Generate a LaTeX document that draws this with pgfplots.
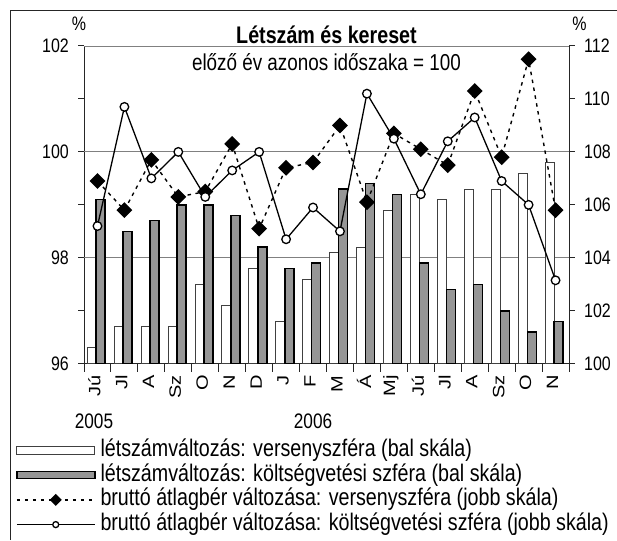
\documentclass[border=0pt]{standalone}
\usepackage{fontspec}
\setmainfont{Liberation Sans}[FakeStretch=0.82]
\newfontfamily\rotfont{Liberation Sans}[FakeStretch=1.22]
\usepackage{pgfplots}
\pgfplotsset{compat=1.18}
\definecolor{bargrey}{RGB}{150,150,150}
\definecolor{gridgrey}{RGB}{128,128,128}
\newcommand{\fs}[1]{\fontsize{#1}{#1}\selectfont}
\pgfplotsset{
  diamleg/.style={legend image code/.code={\draw[mark repeat=2, mark phase=2, ##1, mark size=3.6pt] plot coordinates {(0pt,0pt) (39pt,0pt) (78pt,0pt)};}},
  circleg/.style={legend image code/.code={\draw[mark repeat=2, mark phase=2, ##1, mark size=3pt] plot coordinates {(0pt,0pt) (39pt,0pt) (78pt,0pt)};}},
  whiteleg/.style={legend image code/.code={\draw[fill=white,draw=black!75,line width=0.8pt] (0pt,-4pt) rectangle (78pt,4pt);}},
  greyleg/.style={legend image code/.code={\draw[fill=bargrey,draw=black,line width=1.5pt] (0pt,-3.5pt) rectangle (78pt,3.5pt);}},
}

\begin{document}
\begin{tikzpicture}
\useasboundingbox (-84pt,-176.3pt) rectangle (533pt,363.7pt);
\draw[black!85, line width=1pt] (-73pt,-176.3pt) -- (-73pt,352.7pt) -- (533pt,352.7pt);

\begin{axis}[
  at={(0pt,0pt)}, anchor=south west,
  scale only axis, width=485pt, height=317.7pt,
  xmin=-0.5, xmax=17.5, ymin=96, ymax=102,
  axis x line*=bottom, axis y line*=left,
  axis line style={black!85, line width=1pt},
  tick align=outside,
  major tick length=5.5pt, minor tick length=8pt,
  tick style={black!85, line width=1pt},
  xtick={0,...,17},
  xticklabels={Jú,Jl,A,Sz,O,N,D,J,F,M,Á,Mj,Jú,Jl,A,Sz,O,N},
  major x tick style={draw=none},
  minor xtick={-0.5,0.5,...,17.5},
  xticklabel style={rotate=90, anchor=east, font=\rotfont\fs{16.4}, inner sep=0pt, xshift=-6pt, yshift=3pt},
  ytick={96,97,...,102},
  yticklabels={96,,98,,100,,102},
  yticklabel style={font=\fs{19.5}, inner sep=0pt, xshift=-9.5pt},
  /pgf/number format/assume math mode=true,
  extra y ticks={98,100,102},
  extra y tick labels={},
  extra y tick style={grid=major, major tick length=0pt},
  grid style={gridgrey, line width=0.9pt},
]
\addplot[ybar, bar width=9pt, bar shift=-5.8pt, fill=white, draw=black!75, line width=0.8pt]
  coordinates {(0,96.3) (1,96.7) (2,96.7) (3,96.7) (4,97.5) (5,97.1) (6,97.8) (7,96.8) (8,97.6)
               (9,98.1) (10,98.2) (11,98.9) (12,99.2) (13,99.1) (14,99.3) (15,99.3) (16,99.6) (17,99.8)};
\addplot[ybar, bar width=9pt, bar shift=3.2pt, fill=bargrey, draw=black, line width=1.5pt]
  coordinates {(0,99.1) (1,98.5) (2,98.7) (3,99.0) (4,99.0) (5,98.8) (6,98.2) (7,97.8) (8,97.9)
               (9,99.3) (10,99.4) (11,99.2) (12,97.9) (13,97.4) (14,97.5) (15,97.0) (16,96.6) (17,96.8)};
\end{axis}

\begin{axis}[
  at={(0pt,0pt)}, anchor=south west,
  scale only axis, width=485pt, height=317.7pt,
  xmin=-0.5, xmax=17.5, ymin=100, ymax=112,
  axis x line=none, axis y line*=right,
  axis line style={black!85, line width=1pt},
  tick align=outside, major tick length=5.5pt,
  tick style={black!85, line width=1pt},
  ytick={100,102,...,112},
  yticklabel style={font=\fs{19.5}, inner sep=0pt, xshift=9.5pt},
  /pgf/number format/assume math mode=true,
  clip=false,
  legend style={at={(-0.1402,-0.2386)}, anchor=north west, draw=none, fill=none,
    inner sep=0pt, outer sep=0pt, row sep=2.7pt, column sep=5pt, font=\fs{24},
    nodes={inner sep=0pt, text height=17pt, text depth=5pt}},
  legend cell align=left,
]
\addlegendimage{whiteleg}
\addlegendentry{létszámváltozás: versenyszféra (bal skála)}
\addlegendimage{greyleg}
\addlegendentry{létszámváltozás: költségvetési szféra (bal skála)}
\addplot[black, line width=1.4pt, dash pattern=on 3.5pt off 4.5pt,
  mark=square*, mark size=4.9pt, mark options={solid, rotate=45, fill=black}, diamleg]
  coordinates {(0,106.9) (1,105.8) (2,107.7) (3,106.3) (4,106.5) (5,108.3) (6,105.1) (7,107.4) (8,107.6)
               (9,109.0) (10,106.1) (11,108.7) (12,108.1) (13,107.5) (14,110.3) (15,107.8) (16,111.5) (17,105.8)};
\addlegendentry{bruttó átlagbér változása: versenyszféra (jobb skála)}
\addplot[black, line width=1.3pt,
  mark=*, mark size=4.3pt, mark options={solid, fill=white, line width=1.3pt}, circleg]
  coordinates {(0,105.2) (1,109.7) (2,107.0) (3,108.0) (4,106.3) (5,107.3) (6,108.0) (7,104.7) (8,105.9)
               (9,105.0) (10,110.2) (11,108.5) (12,106.4) (13,108.4) (14,109.3) (15,106.9) (16,106.0) (17,103.15)};
\addlegendentry{bruttó átlagbér változása: költségvetési szféra (jobb skála)}
\end{axis}

\node[font=\bfseries\fs{24}] at (242.5pt,329pt) {Létszám és kereset};
\node[font=\fs{23}] at (242.5pt,302pt) {előző év azonos időszaka = 100};
\node[font=\fs{19.5}] at (-5pt,339.7pt) {\%};
\node[font=\fs{19.5}] at (495.5pt,339.7pt) {\%};
\node[font=\fs{21}] at (10pt,-58pt) {2005};
\node[font=\fs{21}] at (229pt,-58pt) {2006};
\end{tikzpicture}
\end{document}
